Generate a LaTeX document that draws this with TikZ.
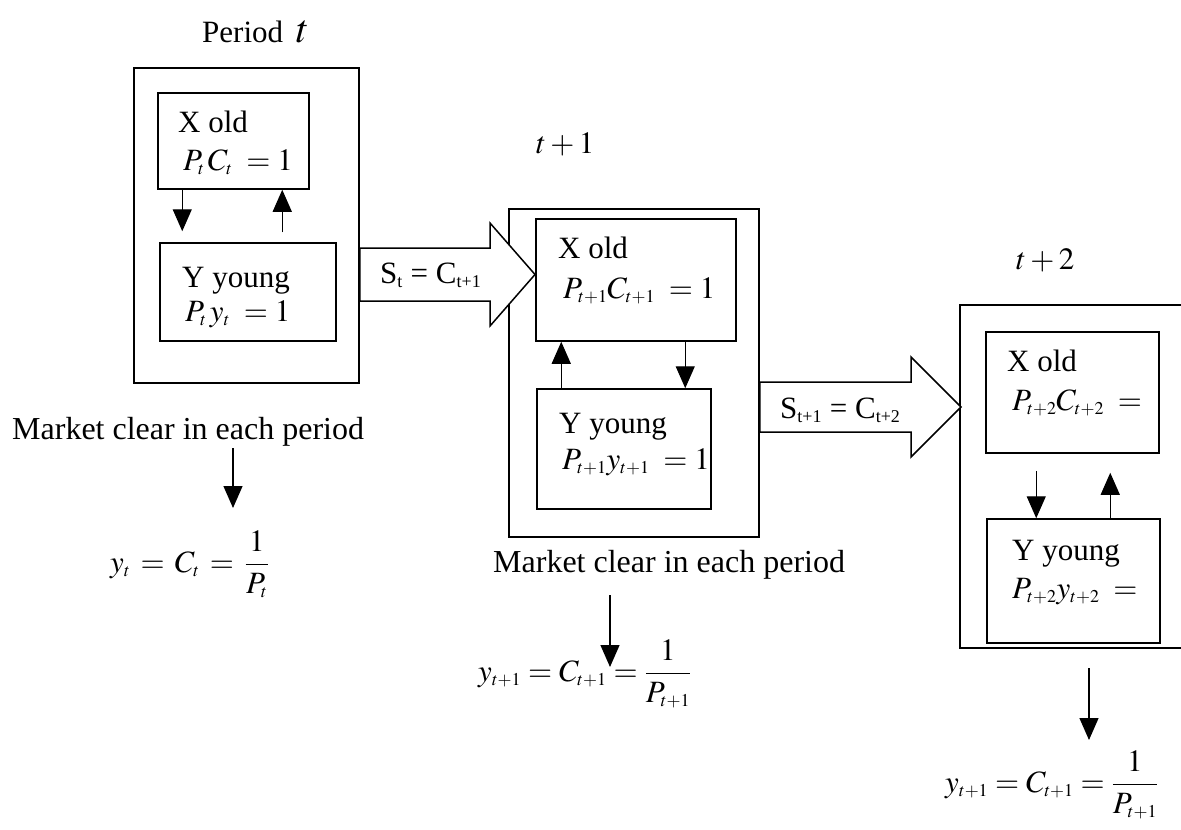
\documentclass[tikz,border=0pt]{standalone}
\usepackage{mathptmx}
\usepackage[no-math]{fontspec}
\setmainfont{Liberation Serif}
\DeclareMathSizes{31}{31}{18}{14}
\DeclareMathSizes{32}{32}{19}{14}
\usetikzlibrary{arrows.meta}
\begin{document}
\begin{tikzpicture}[x=1pt,y=-1pt,
  box/.style={draw, line width=1.5pt, inner sep=0pt},
  txt/.style={font=\fontsize{31}{36}\selectfont, inner sep=0pt, anchor=base west},
  big/.style={txt, font=\fontsize{32}{37}\selectfont},
  arr/.style={line width=1.3pt, -{Triangle[width=19pt,length=22pt]}},
  blockarrow/.style={draw, fill=white, line width=1.5pt, line join=miter}]
\useasboundingbox[fill=white] (0,0) rectangle (1181,830);

% outer period boxes
\node[box, minimum width=225, minimum height=315] (o1) at (246.5,225.5) {};
\node[box, minimum width=250, minimum height=328] (o2) at (634,373) {};
\node[box, minimum width=260, minimum height=343] (o3) at (1090,476.5) {};

% block arrows (savings transfers)
\draw[blockarrow] (o1.east |- 0,248) -- (490,248) -- (490,223) -- (535,274.5)
  -- (490,326) -- (490,301) -- (o1.east |- 0,301) -- cycle;
\draw[blockarrow] (o2.east |- 0,382) -- (911,382) -- (911,357) -- (961,407)
  -- (911,457) -- (911,432) -- (o2.east |- 0,432) -- cycle;
\node[txt] (s1) at (380,283) {S\textsubscript{t} = C\textsubscript{t+1}};
\node[txt] (s2) at (780,418) {S\textsubscript{t+1} = C\textsubscript{t+2}};

% inner boxes
\node[box, minimum width=151, minimum height=96] (x1) at (233.5,141) {};
\node[box, minimum width=176, minimum height=98] (y1) at (248,292) {};
\node[box, minimum width=200, minimum height=122] (x2) at (636,280) {};
\node[box, minimum width=174, minimum height=120] (y2) at (624,449) {};
\node[box, minimum width=173, minimum height=121] (x3) at (1072.5,392.5) {};
\node[box, minimum width=173, minimum height=124] (y3) at (1073.5,581) {};

% titles
\node[txt] (p1) at (202,42) {Period\, {\fontsize{40}{44}\selectfont$t$}};
\node[txt] (p2) at (536,153) {$t+1$};
\node[txt] (p3) at (1016,269) {$t+2$};

% box texts
\node[txt] (x1a) at (178,132) {X old};
\node[txt] (x1b) at (183,170) {$P_t\,C_t\; = 1$};
\node[txt] (y1a) at (182,287) {Y young};
\node[txt] (y1b) at (185,321) {$P_t\,y_t\; = 1$};

\node[txt] (x2a) at (558,258) {X old};
\node[txt] (x2b) at (563,298) {$P_{t+1}C_{t+1}\; = 1$};
\node[txt] (y2a) at (559,433) {Y young};
\node[txt] (y2b) at (562,469) {$P_{t+1}y_{t+1}\; = 1$};

\node[txt] (x3a) at (1007,371) {X old};
\node[txt] (x3b) at (1012,410) {$P_{t+2}C_{t+2}\; =$};
\node[txt] (y3a) at (1012,560) {Y young};
\node[txt] (y3b) at (1012,598) {$P_{t+2}y_{t+2}\; =$};

% exchange arrows
\draw[arr] ([xshift=25pt]x1.south west) -- ([xshift=23pt,yshift=11pt]y1.north west);
\draw[arr] ([xshift=123pt,yshift=10pt]y1.north west) -- ([xshift=125pt]x1.south west);
\draw[arr] ([xshift=25pt]y2.north west) -- ([xshift=26pt]x2.south west);
\draw[arr] ([xshift=150pt]x2.south west) -- ([xshift=149pt]y2.north west);
\draw[arr] ([xshift=51pt,yshift=-17pt]x3.south west) -- ([xshift=50pt]y3.north west);
\draw[arr] ([xshift=124pt]y3.north west) -- ([xshift=125pt,yshift=-19pt]x3.south west);

% market clearing
\node[big] (m1) at (12,439) {Market clear in each period};
\node[big] (m2) at (493,572) {Market clear in each period};

\node[txt] (f1) at (110,572) {$y_t \,=\, C_t \,=\, {\displaystyle\frac{\,1\,}{P_t}}$};
\node[txt] (f2) at (478,681) {$y_{t+1} = C_{t+1} = {\displaystyle\frac{1}{P_{t+1}}}$};
\node[txt] (f3) at (945,792) {$y_{t+1} = C_{t+1} = {\displaystyle\frac{1}{P_{t+1}}}$};

\coordinate (a1s) at (233,448);
\coordinate (a1e) at (233,508);
\coordinate (a2s) at (610,595);
\coordinate (a2e) at (610,667);
\coordinate (a3s) at (1089,668);
\coordinate (a3e) at (1089,740);
\draw[arr] (a1s) -- (a1e);
\draw[arr] (a2s) -- (a2e);
\draw[arr] (a3s) -- (a3e);
\end{tikzpicture}
\end{document}
